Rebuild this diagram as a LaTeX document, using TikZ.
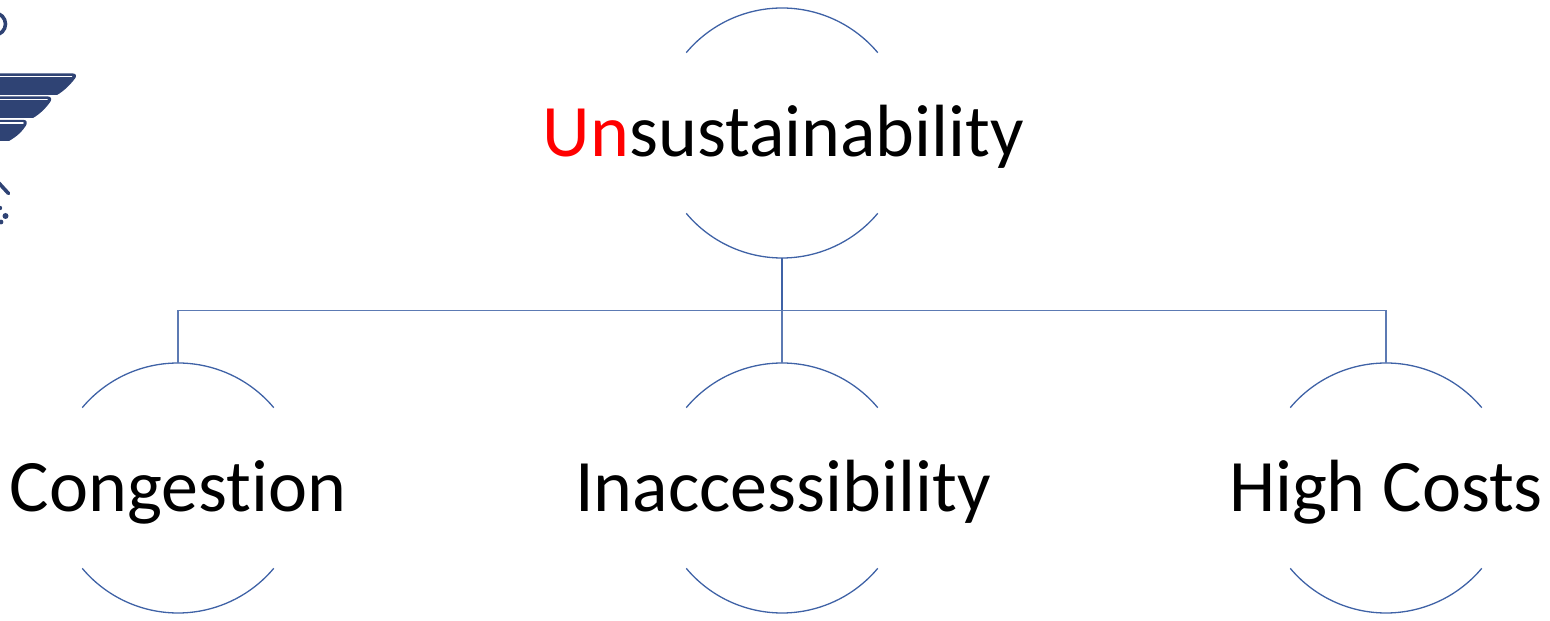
\documentclass[tikz,border=0pt]{standalone}
\usepackage{fontspec}
\usetikzlibrary{calc}
\setmainfont[Ligatures=NoCommon]{Carlito}
\definecolor{linkblue}{HTML}{3F62A6}
\definecolor{logoblue}{HTML}{2F4374}
\tikzset{
  x=1pt,y=1pt,
  ring/.style={circle,minimum size=250pt,inner sep=0pt,outer sep=0pt},
  arcline/.style={draw=linkblue,line width=1.3pt},
  link/.style={draw=linkblue!85,line width=1.6pt},
  label text/.style={font=\fontsize{74}{78}\selectfont,text=black,anchor=base,inner sep=0pt},
  slit/.style={draw=white,line width=1.8pt,line cap=round}
}
\newcommand{\ringarcs}[1]{%
  \draw[arcline] (#1.140) arc[start angle=140,end angle=40,radius=125pt];
  \draw[arcline] (#1.-140) arc[start angle=-140,end angle=-40,radius=125pt];
}
\begin{document}
\begin{tikzpicture}
\useasboundingbox (0,0) rectangle (1550,621);
\begin{scope}
\clip (0,0) rectangle (1550,621);
% logo fragment (Y up = 621 - pixel row)
\draw[logoblue,line width=3.6pt] (-5.5,597) circle[radius=11];
\fill[logoblue] (-2,547.5) -- (73,547.5) .. controls (76,547.5) and (77,545) .. (75,542.5) .. controls (70,536) and (64,530) .. (57,526) -- (-2,526) -- cycle;
\draw[slit] (-2,544.5) -- (71.5,544.5);
\fill[logoblue] (-2,524.5) -- (48,524.5) .. controls (51,524.5) and (52,522) .. (50.5,519.5) .. controls (46,513) and (40,507) .. (33,503) -- (-2,503) -- cycle;
\draw[slit] (-2,521.5) -- (47,521.5);
\fill[logoblue] (-2,501) -- (24,501) .. controls (27,501) and (27.5,498) .. (26,495.5) .. controls (22,489) and (16,484) .. (9,480) -- (-2,480) -- cycle;
\draw[slit] (-2,498) -- (23,498);
\draw[logoblue,line width=3.6pt,line cap=round] (-3,440) -- (8.5,427.5);
\fill[logoblue] (5.5,405) circle[radius=3];
\fill[logoblue] (0,413) circle[radius=2.2];
\fill[logoblue] (1,399) circle[radius=2.4];
\end{scope}
% rings
\node[ring] (top) at (782,488) {};
\node[ring] (left) at (178,133) {};
\node[ring] (mid) at (782,133) {};
\node[ring] (right) at (1386,133) {};
\ringarcs{top}\ringarcs{left}\ringarcs{mid}\ringarcs{right}
% labels
\node[label text] (toptext) at (783.5,464) {\textcolor{red}{Un}sustainability};
\node[label text] (lefttext) at (178,109) {Congestion};
\node[label text] (midtext) at (783,109) {Inaccessibility};
\node[label text] (righttext) at (1386,109) {High Costs};
% connectors
\coordinate (bus) at ($(top.south)!0.5!(mid.north)$);
\draw[link] (left.north) -- (left.north |- bus) -- (right.north |- bus) -- (right.north);
\draw[link] (mid.north) -- (bus);
\draw[draw=linkblue,line width=2pt] (top.south) -- (bus);
\end{tikzpicture}
\end{document}
